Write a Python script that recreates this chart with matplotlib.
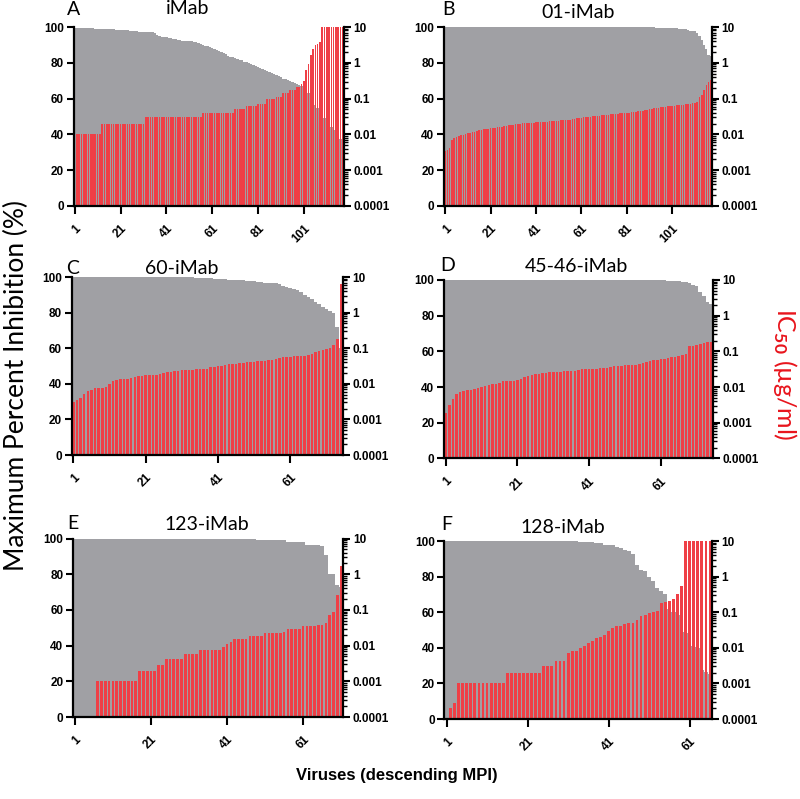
import numpy as np
import matplotlib
matplotlib.use('Agg')
import matplotlib.pyplot as plt
from matplotlib.ticker import FixedLocator, FixedFormatter, LogLocator, NullFormatter

nan = np.nan

GREY = '#a0a0a4'
RED = '#ef3f46'
LABEL_RED = '#e8141c'

# ---- data: maximum percent inhibition (%) and IC50 (ug/ml) per virus ----
mpi_imab = [
    99.6, 99.5, 99.5, 99.4, 99.4, 99.3, 99.3, 99.2, 99.2, 99.1,
    99.1, 99.0, 99.0, 98.9, 98.9, 98.8, 98.8, 98.7, 98.6, 98.5,
    98.3, 98.2, 98.2, 98.1, 98.0, 98.0, 97.9, 97.8, 97.4, 97.3,
    97.3, 97.2, 97.2, 97.1, 97.0, 96.9, 95.5, 95.0, 94.6, 94.4,
    94.2, 94.0, 93.6, 93.4, 93.2, 93.0, 92.8, 92.4, 92.3, 92.2,
    92.1, 92.0, 91.8, 91.5, 90.8, 90.4, 90.0, 89.6, 89.2, 88.8,
    88.4, 87.8, 87.2, 86.6, 86.0, 85.4, 84.8, 83.6, 83.3, 83.0,
    82.6, 82.2, 81.8, 81.4, 80.6, 80.2, 79.7, 79.2, 78.7, 78.2,
    77.6, 77.1, 76.6, 76.0, 75.5, 75.0, 74.2, 73.6, 73.0, 72.4,
    71.8, 71.2, 70.8, 70.4, 70.0, 69.4, 68.8, 68.2, 67.6, 67.0,
    66.2, 65.0, 63.0, 61.0, 58.0, 56.5, 55.0, 53.0, 51.0, 49.0,
    47.0, 45.5, 44.0, 42.5, 41.0, 39.5, 37.5, 34.5,
]
ic50_imab = [
    0.01, 0.01, 0.01, 0.01, 0.01, 0.01, 0.01, 0.01, 0.01, 0.01,
    0.01, 0.01, 0.02, 0.02, 0.02, 0.02, 0.02, 0.02, 0.02, 0.02,
    0.02, 0.02, 0.02, 0.02, 0.02, 0.02, 0.02, 0.02, 0.02, 0.02,
    0.02, 0.03, 0.03, 0.03, 0.03, 0.03, 0.03, 0.03, 0.03, 0.03,
    0.03, 0.03, 0.03, 0.03, 0.03, 0.03, 0.03, 0.03, 0.03, 0.03,
    0.03, 0.03, 0.03, 0.03, 0.03, 0.03, 0.04, 0.04, 0.04, 0.04,
    0.04, 0.04, 0.04, 0.04, 0.04, 0.04, 0.04, 0.04, 0.04, 0.04,
    0.05, 0.05, 0.05, 0.05, 0.05, 0.062, 0.062, 0.062, 0.062, 0.062,
    0.071, 0.071, 0.071, 0.071, 0.095, 0.095, 0.095, 0.095, 0.11, 0.11,
    0.11, 0.14, 0.14, 0.14, 0.17, 0.17, 0.17, 0.21, 0.21, 0.26,
    0.32, 0.62, 0.94, 1.6, 2.5, 3.2, 3.4, 3.8, 10, 10,
    10, 10, 10, 10, 10, 10, 10, 10,
]

mpi_01 = [
    100, 100, 100, 100, 100, 100, 100, 100, 100, 100,
    100, 100, 100, 100, 100, 100, 100, 100, 100, 100,
    100, 100, 100, 100, 100, 100, 100, 100, 100, 100,
    100, 100, 100, 100, 100, 100, 100, 100, 100, 100,
    100, 100, 100, 100, 100, 100, 100, 100, 100, 100,
    100, 100, 100, 100, 100, 100, 100, 100, 100, 100,
    100, 100, 100, 100, 100, 100, 100, 100, 100, 100,
    100, 100, 100, 100, 100, 100, 100, 100, 100, 100,
    100, 100, 100, 100, 100, 100, 100, 100, 100, 100,
    100, 100, 100, 99.5, 99.5, 99.5, 99.5, 99.5, 99.5, 99.5,
    99.5, 99.5, 99.5, 99.0, 99.0, 99.0, 99.0, 98.2, 98.0, 97.8,
    97.5, 96.8, 95.2, 93.0, 90.2, 87.5, 84.5, 84.0,
]
ic50_01 = [
    0.0035, 0.0037, 0.0042, 0.0071, 0.0079, 0.0084, 0.0089, 0.0094, 0.0097, 0.0100,
    0.0106, 0.0112, 0.0115, 0.0119, 0.0126, 0.0130, 0.0135, 0.0138, 0.0141, 0.0145,
    0.0148, 0.0151, 0.0155, 0.0158, 0.0162, 0.0166, 0.0170, 0.0174, 0.0178, 0.0182,
    0.0186, 0.0191, 0.0195, 0.0200, 0.0202, 0.0204, 0.0207, 0.0209, 0.0211, 0.0214,
    0.0216, 0.0219, 0.0221, 0.0224, 0.0226, 0.0229, 0.0232, 0.0234, 0.0237, 0.0240,
    0.0243, 0.0246, 0.0248, 0.0251, 0.0254, 0.0260, 0.0266, 0.0272, 0.0279, 0.0285,
    0.0292, 0.0299, 0.0306, 0.0309, 0.0313, 0.0320, 0.0324, 0.0331, 0.0335, 0.0343,
    0.0347, 0.0355, 0.0359, 0.0363, 0.0368, 0.0376, 0.0381, 0.0385, 0.0390, 0.0398,
    0.0403, 0.0407, 0.0417, 0.0422, 0.0427, 0.0437, 0.0447, 0.0462, 0.0473, 0.0490,
    0.0501, 0.0519, 0.0531, 0.0549, 0.0562, 0.0575, 0.0589, 0.0596, 0.0603, 0.0617,
    0.0631, 0.0638, 0.0646, 0.0653, 0.0661, 0.0676, 0.0692, 0.0708, 0.0724, 0.0750,
    0.0776, 0.0813, 0.112, 0.126, 0.172, 0.237, 0.292, 0.327,
]

mpi_60 = [
    100, 100, 100, 100, 100, 100, 100, 100, 100, 100,
    100, 100, 100, 100, 100, 100, 100, 100, 100, 100,
    100, 100, 100, 100, 100, 100, 100, 100, 100, 100,
    100, 100, 100, 100, 99.5, 99.4, 99.3, 99.2, 99.2, 99.1,
    99.0, 99.0, 98.9, 98.6, 98.5, 98.4, 98.3, 98.2, 97.8, 97.6,
    97.5, 97.4, 97.3, 96.8, 96.6, 96.5, 96.4, 96.2, 95.0, 94.5,
    94.0, 93.0, 92.5, 91.5, 90.0, 88.5, 87.5, 86.0, 85.0, 83.0,
    82.0, 81.0, 80.0, 72.0, 60.0,
]
ic50_60 = [
    0.0030, 0.0035, 0.0040, 0.0053, 0.0063, 0.0067, 0.0075, 0.0075, 0.0075, 0.0084,
    0.0100, 0.0119, 0.0126, 0.0133, 0.0141, 0.0141, 0.0150, 0.0158, 0.0168, 0.0168,
    0.0174, 0.0174, 0.0178, 0.0178, 0.0188, 0.0200, 0.0211, 0.0211, 0.0224, 0.0224,
    0.0237, 0.0251, 0.0251, 0.0251, 0.0266, 0.0266, 0.0266, 0.0266, 0.0299, 0.0299,
    0.0309, 0.0316, 0.0335, 0.0355, 0.0355, 0.0368, 0.0376, 0.0389, 0.0398, 0.0398,
    0.0412, 0.0447, 0.0447, 0.0447, 0.0457, 0.0473, 0.0501, 0.0531, 0.0562, 0.0562,
    0.0582, 0.0596, 0.0596, 0.0596, 0.0617, 0.0631, 0.0708, 0.0794, 0.0841, 0.0891,
    0.0944, 0.100, 0.126, 0.178, 6.3,
]

mpi_4546 = [
    100, 100, 100, 100, 100, 100, 100, 100, 100, 100,
    100, 100, 100, 100, 100, 100, 100, 100, 100, 100,
    100, 100, 100, 100, 100, 100, 100, 100, 100, 100,
    100, 100, 100, 100, 100, 100, 100, 100, 100, 100,
    100, 100, 100, 100, 100, 100, 100, 100, 100, 100,
    100, 100, 100, 100, 100, 100, 100, 100, 100, 100,
    100, 100, 99.5, 99.4, 99.3, 99.2, 99.0, 98.8, 98.3, 97.0,
    96.5, 93.5, 91.0, 87.5, 86.5,
]
ic50_4546 = [
    0.00188, 0.00309, 0.00473, 0.00653, 0.00724, 0.00776, 0.00813, 0.00841, 0.00902, 0.00966,
    0.0100, 0.0105, 0.0112, 0.0119, 0.0124, 0.0130, 0.0145, 0.0148, 0.0151, 0.0151,
    0.0155, 0.0164, 0.0191, 0.0204, 0.0214, 0.0226, 0.0237, 0.0248, 0.0251, 0.0257,
    0.0257, 0.0263, 0.0263, 0.0275, 0.0282, 0.0282, 0.0288, 0.0305, 0.0313, 0.0313,
    0.0320, 0.0320, 0.0327, 0.0335, 0.0343, 0.0347, 0.0355, 0.0380, 0.0389, 0.0398,
    0.0403, 0.0403, 0.0412, 0.0422, 0.0432, 0.0468, 0.0490, 0.0537, 0.0556, 0.0582,
    0.0610, 0.0624, 0.0646, 0.0676, 0.0692, 0.0724, 0.0767, 0.0861, 0.138, 0.146,
    0.153, 0.162, 0.170, 0.182, 0.188,
]

mpi_123 = [
    100, 100, 100, 100, 100, 100, 100, 100, 100, 100,
    100, 100, 100, 100, 100, 100, 100, 100, 100, 100,
    100, 100, 100, 100, 100, 100, 100, 100, 100, 100,
    100, 100, 100, 100, 100, 100, 100, 100, 100, 100,
    100, 100, 100, 100, 100, 100, 100, 100, 99.4, 99.3,
    99.3, 99.2, 99.2, 99.1, 99.1, 99.0, 98.3, 98.2, 98.2, 98.1,
    98.0, 96.5, 96.4, 96.3, 96.2, 96.0, 90.5, 80.0, 80.0, 74.0,
    73.0,
]
ic50_123 = [
    nan, nan, nan, nan, nan, nan, 0.001, 0.001, 0.001, 0.001,
    0.001, 0.001, 0.001, 0.001, 0.001, 0.001, 0.001, 0.002, 0.002, 0.002,
    0.002, 0.002, 0.0029, 0.0029, 0.0041, 0.0041, 0.0041, 0.0041, 0.0041, 0.0060,
    0.0060, 0.0060, 0.0060, 0.0077, 0.0077, 0.0077, 0.0077, 0.0077, 0.0077, 0.0089,
    0.0112, 0.0126, 0.0155, 0.0155, 0.0155, 0.0155, 0.0182, 0.0182, 0.0182, 0.0182,
    0.0224, 0.0224, 0.0224, 0.0224, 0.0224, 0.0240, 0.0290, 0.0290, 0.0290, 0.0290,
    0.0355, 0.0355, 0.0363, 0.0363, 0.0368, 0.0368, 0.042, 0.072, 0.089, 0.27,
    1.7,
]

mpi_128 = [
    100, 100, 100, 100, 100, 100, 100, 100, 100, 100,
    100, 100, 100, 100, 100, 100, 100, 100, 100, 100,
    100, 100, 100, 100, 100, 100, 100, 100, 100, 100,
    100, 100, 100, 99.6, 99.5, 99.4, 99.3, 98.8, 98.6, 98.0,
    97.8, 97.5, 96.8, 96.2, 95.2, 94.4, 92.5, 86.5, 83.5, 83.2,
    79.5, 77.5, 73.5, 72.0, 70.5, 62.0, 60.0, 58.5, 49.0, 48.5,
    41.0, 40.5, 40.0, 27.5, 26.5, 25.5,
]
ic50_128 = [
    nan, 0.0002, 0.00028, 0.001, 0.001, 0.001, 0.001, 0.001, 0.001, 0.001,
    0.001, 0.001, 0.001, 0.001, 0.001, 0.002, 0.002, 0.002, 0.002, 0.002,
    0.002, 0.002, 0.002, 0.002, 0.003, 0.003, 0.003, 0.0043, 0.0043, 0.0043,
    0.0071, 0.0084, 0.0084, 0.010, 0.0112, 0.0133, 0.0158, 0.0188, 0.020, 0.0224,
    0.030, 0.0355, 0.040, 0.042, 0.047, 0.050, 0.050, 0.060, 0.079, 0.084,
    0.094, 0.100, 0.106, 0.178, 0.188, 0.200, 0.237, 0.316, 0.56, 10,
    10, 10, 10, 10, 10, 10,
]

ticks_long = [1, 21, 41, 61, 81, 101]
ticks_short = [1, 21, 41, 61]
ic50_ticks = [1e-4, 1e-3, 1e-2, 1e-1, 1, 10]
ic50_ticklabels = ['0.0001', '0.001', '0.01', '0.1', '1', '10']

plt.rcParams['font.family'] = ['Liberation Sans', 'DejaVu Sans']
plt.rcParams['font.weight'] = 'bold'
plt.rcParams['mathtext.fontset'] = 'custom'
plt.rcParams['mathtext.rm'] = 'Lato'
plt.rcParams['mathtext.default'] = 'rm'

fig = plt.figure(figsize=(8, 7.99), dpi=100)

# letter, title, mpi, ic50, x ticks, axes rect, letter pos, title pos
panels = [
    ('A', 'iMab', mpi_imab, ic50_imab, ticks_long,
     [0.0919, 0.7422, 0.3381, 0.2240], (0.0925, 0.9875), (0.234, 0.989)),
    ('B', '01-iMab', mpi_01, ic50_01, ticks_long,
     [0.5550, 0.7422, 0.3350, 0.2240], (0.560, 0.9875), (0.7225, 0.984)),
    ('C', '60-iMab', mpi_60, ic50_60, ticks_short,
     [0.0894, 0.4305, 0.3390, 0.2228], (0.0906, 0.664), (0.2275, 0.664)),
    ('D', '45-46-iMab', mpi_4546, ic50_4546, ticks_short,
     [0.5550, 0.4262, 0.3360, 0.2234], (0.559, 0.668), (0.721, 0.666)),
    ('E', '123-iMab', mpi_123, ic50_123, ticks_short,
     [0.0913, 0.1026, 0.3375, 0.2234], (0.0906, 0.345), (0.259, 0.343)),
    ('F', '128-iMab', mpi_128, ic50_128, ticks_short,
     [0.5556, 0.1001, 0.3344, 0.2228], (0.559, 0.343), (0.704, 0.340)),
]

for letter, title, mpi, ic50, xt, rect, lxy, txy in panels:
    n = len(mpi)
    x = np.arange(1, n + 1)
    ax = fig.add_axes(rect)
    ax.bar(x, mpi, width=1.0, color=GREY, linewidth=0)
    ax.set_xlim(0.5, n + 0.5)
    ax.set_ylim(0, 100)
    ax.set_yticks([0, 20, 40, 60, 80, 100])
    ax.set_xticks(xt)
    ax.set_xticklabels([str(t) for t in xt], rotation=45, ha='right',
                       va='top', rotation_mode='anchor')
    ax.tick_params(axis='y', direction='out', length=5, width=1.5,
                   labelsize=8.5, pad=2)
    ax.tick_params(axis='x', direction='out', length=6, width=1.5,
                   labelsize=8.5, pad=6)
    for s in ax.spines.values():
        s.set_visible(False)

    # IC50 on a log axis drawn over the MPI bars; this axes carries the spines
    ax2 = ax.twinx()
    ax2.set_yscale('log')
    ic = np.asarray(ic50, dtype=float)
    ok = np.isfinite(ic)
    ax2.bar(x[ok], ic[ok] - 1e-4, bottom=1e-4, width=0.7, color=RED,
            linewidth=0)
    ax2.set_ylim(1e-4, 10)
    ax2.set_xlim(0.5, n + 0.5)
    ax2.yaxis.set_major_locator(FixedLocator(ic50_ticks))
    ax2.yaxis.set_major_formatter(FixedFormatter(ic50_ticklabels))
    ax2.yaxis.set_minor_locator(LogLocator(base=10, subs=np.arange(2, 10)))
    ax2.yaxis.set_minor_formatter(NullFormatter())
    ax2.tick_params(axis='y', which='major', direction='out', length=5,
                    width=1.5, labelsize=8.5, pad=2)
    ax2.tick_params(axis='y', which='minor', direction='out', length=3,
                    width=1.0)
    ax2.spines['top'].set_visible(False)
    for side in ('left', 'bottom', 'right'):
        ax2.spines[side].set_linewidth(1.6)

    fig.text(lxy[0], lxy[1], letter, fontsize=14, fontweight='normal',
             family=['Lato', 'DejaVu Sans'], ha='center', va='center')
    fig.text(txy[0], txy[1], title, fontsize=14, fontweight='normal',
             family=['Lato', 'DejaVu Sans'], ha='center', va='center')

fig.text(0.020, 0.518, 'Maximum Percent Inhibition (%)', rotation=90,
         fontsize=19, fontweight='normal', family=['Lato', 'DejaVu Sans'],
         ha='center', va='center')
fig.text(0.981, 0.531, r'IC$_{\mathrm{50}}$ (µg/ml)', rotation=270,
         color=LABEL_RED, fontsize=18, fontweight='normal',
         family=['Lato', 'DejaVu Sans'], ha='center', va='center')
fig.text(0.496, 0.030, 'Viruses (descending MPI)', fontsize=12,
         fontweight='bold', ha='center', va='center')

fig.savefig('out.png', dpi=100)
plt.close(fig)
